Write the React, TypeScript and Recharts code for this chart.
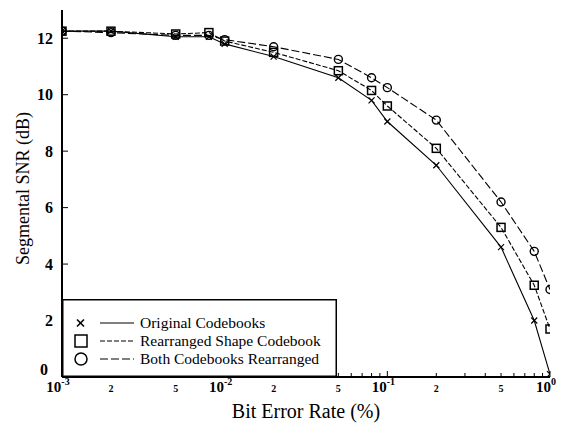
import React from 'react';
import { LineChart, Line, XAxis, YAxis } from 'recharts';

const berValues = [0.001, 0.002, 0.005, 0.008, 0.01, 0.02, 0.05, 0.08, 0.1, 0.2, 0.5, 0.8, 1.0];
const originalSnr = [12.25, 12.25, 12.05, 12.05, 11.8, 11.35, 10.6, 9.8, 9.05, 7.5, 4.6, 2.0, 0.1];
const shapeSnr = [12.25, 12.25, 12.15, 12.2, 11.9, 11.5, 10.85, 10.15, 9.6, 8.1, 5.3, 3.25, 1.7];
const bothSnr = [12.25, 12.2, 12.1, 12.1, 11.95, 11.7, 11.25, 10.6, 10.25, 9.1, 6.2, 4.45, 3.1];

const xTicks = [
  0.001, 0.002, 0.003, 0.004, 0.005, 0.006, 0.007, 0.008, 0.009,
  0.01, 0.02, 0.03, 0.04, 0.05, 0.06, 0.07, 0.08, 0.09,
  0.1, 0.2, 0.3, 0.4, 0.5, 0.6, 0.7, 0.8, 0.9, 1,
];
const xMajorTicks = [0.001, 0.01, 0.1, 1];
const xMajorExponents = ['-3', '-2', '-1', '0'];
const xMinorLabels = [
  { value: 0.002, label: '2' }, { value: 0.005, label: '5' },
  { value: 0.02, label: '2' }, { value: 0.05, label: '5' },
  { value: 0.2, label: '2' }, { value: 0.5, label: '5' },
];
const yTicks = [0, 2, 4, 6, 8, 10, 12];

const seriesNames = ['Original Codebooks', 'Rearranged Shape Codebook', 'Both Codebooks Rearranged'];

const data = berValues.map((ber, i) => ({
  ber,
  original: originalSnr[i],
  shape: shapeSnr[i],
  both: bothSnr[i],
}));

const FONT = '"Liberation Serif", "Times New Roman", serif';
const near = (a: number, b: number) => Math.abs(a - b) < 1e-9;

const BottomTick = (props: any) => {
  const { x, y, payload } = props;
  const v = payload.value;
  const mi = xMajorTicks.findIndex((t) => near(t, v));
  const minor = xMinorLabels.find((t) => near(t.value, v));
  const len = mi >= 0 ? 6 : 4;
  return (
    <g>
      <line x1={x} y1={y} x2={x} y2={y - len} stroke="#000" strokeWidth={1} />
      {mi >= 0 && (
        <text x={x - 4} y={y + 15} textAnchor="middle" fontFamily={FONT} fontSize={15} fontWeight="bold" fill="#000">
          10
          <tspan fontSize={10} dy={-7}>{xMajorExponents[mi]}</tspan>
        </text>
      )}
      {minor && (
        <text x={x} y={y + 15} textAnchor="middle" fontFamily={FONT} fontSize={10} fontWeight="bold" fill="#000">
          {minor.label}
        </text>
      )}
    </g>
  );
};

const TopTick = (props: any) => {
  const { x, y, payload } = props;
  const v = payload.value;
  const len = xMajorTicks.some((t) => near(t, v)) ? 6 : 4;
  return <line x1={x} y1={y} x2={x} y2={y + len} stroke="#000" strokeWidth={1} />;
};

const LeftTick = (props: any) => {
  const { x, y, payload } = props;
  const isZero = payload.value === 0;
  return (
    <g>
      <line x1={x} y1={y} x2={x + 6} y2={y} stroke="#000" strokeWidth={1} />
      <text x={x - (isZero ? 14 : 9)} y={isZero ? y - 2 : y + 5.5} textAnchor="end" fontFamily={FONT} fontSize={16} fontWeight="bold" fill="#000">
        {payload.value}
      </text>
    </g>
  );
};

const RightTick = (props: any) => {
  const { x, y } = props;
  return <line x1={x} y1={y} x2={x - 6} y2={y} stroke="#000" strokeWidth={1} />;
};

const CrossDot = (props: any) => {
  const { cx, cy, index } = props;
  if (cx == null || cy == null) return <g key={index} />;
  const s = 3;
  return (
    <g key={index}>
      <line x1={cx - s} y1={cy - s} x2={cx + s} y2={cy + s} stroke="#000" strokeWidth={1.2} />
      <line x1={cx - s} y1={cy + s} x2={cx + s} y2={cy - s} stroke="#000" strokeWidth={1.2} />
    </g>
  );
};

const SquareDot = (props: any) => {
  const { cx, cy, index } = props;
  if (cx == null || cy == null) return <g key={index} />;
  const s = 4;
  return <rect key={index} x={cx - s} y={cy - s} width={2 * s} height={2 * s} fill="none" stroke="#000" strokeWidth={1.5} />;
};

const CircleDot = (props: any) => {
  const { cx, cy, index } = props;
  if (cx == null || cy == null) return <g key={index} />;
  return <circle key={index} cx={cx} cy={cy} r={4} fill="none" stroke="#000" strokeWidth={1.4} />;
};

const XTitle = (props: any) => {
  const { viewBox } = props;
  const cx = viewBox.x + viewBox.width / 2;
  return (
    <text x={cx} y={viewBox.y + 41} textAnchor="middle" fontFamily={FONT} fontSize={20} fill="#000">
      Bit Error Rate (%)
    </text>
  );
};

const YTitle = (props: any) => {
  const { viewBox } = props;
  const cy = viewBox.y + viewBox.height / 2 - 5;
  const x = 29;
  return (
    <text x={x} y={cy} transform={`rotate(-90 ${x} ${cy})`} textAnchor="middle" fontFamily={FONT} fontSize={18} fill="#000">
      Segmental SNR (dB)
    </text>
  );
};

const dashes = [undefined, '5 2', '8 3'];

const LegendBox = () => (
  <svg width={275} height={78} style={{ position: 'absolute', left: 62, top: 299 }}>
    <rect x={0.75} y={0.75} width={273.5} height={76.5} fill="#fff" stroke="#000" strokeWidth={1.5} />
    {seriesNames.map((name, i) => {
      const cy = 24 + i * 18;
      return (
        <g key={name}>
          {i === 0 ? (
            <g>
              <line x1={15} y1={cy - 3.5} x2={22} y2={cy + 3.5} stroke="#000" strokeWidth={1.6} />
              <line x1={15} y1={cy + 3.5} x2={22} y2={cy - 3.5} stroke="#000" strokeWidth={1.6} />
            </g>
          ) : i === 1 ? (
            <rect x={13} y={cy - 6} width={12} height={12} fill="none" stroke="#000" strokeWidth={1.5} />
          ) : (
            <circle cx={19} cy={cy} r={6} fill="none" stroke="#000" strokeWidth={1.5} />
          )}
          <line x1={38} y1={cy} x2={72} y2={cy} stroke="#000" strokeWidth={1.2} strokeDasharray={dashes[i]} />
          <text x={78} y={cy + 5} fontFamily={FONT} fontSize={15.5} fill="#000">{name}</text>
        </g>
      );
    })}
  </svg>
);

export default function App() {
  return (
    <div style={{ position: 'absolute', left: 0, top: 0, width: 569, height: 425, background: '#fff' }}>
      <LineChart width={569} height={425} data={data} margin={{ top: 10, right: 19, bottom: 0, left: 0 }}>
        <XAxis
          dataKey="ber"
          type="number"
          scale="log"
          domain={[0.001, 1]}
          ticks={xTicks}
          interval={0}
          allowDataOverflow
          height={48}
          tickSize={0}
          tickMargin={0}
          tickLine={false}
          tick={<BottomTick />}
          axisLine={{ stroke: '#000', strokeWidth: 2 }}
          label={<XTitle />}
        />
        <XAxis
          xAxisId="top"
          dataKey="ber"
          type="number"
          scale="log"
          orientation="top"
          domain={[0.001, 1]}
          ticks={xTicks}
          interval={0}
          allowDataOverflow
          height={0}
          tickSize={0}
          tickMargin={0}
          tickLine={false}
          tick={<TopTick />}
          axisLine={{ stroke: '#000', strokeWidth: 1.5 }}
        />
        <YAxis
          type="number"
          domain={[0, 13]}
          ticks={yTicks}
          interval={0}
          width={62}
          tickSize={0}
          tickMargin={0}
          tickLine={false}
          tick={<LeftTick />}
          axisLine={{ stroke: '#000', strokeWidth: 2 }}
          label={<YTitle />}
        />
        <YAxis
          yAxisId="right"
          orientation="right"
          type="number"
          domain={[0, 13]}
          ticks={yTicks}
          interval={0}
          width={0}
          tickSize={0}
          tickMargin={0}
          tickLine={false}
          tick={<RightTick />}
          axisLine={{ stroke: '#000', strokeWidth: 1.5 }}
        />
        <Line dataKey="original" stroke="#000" strokeWidth={1.1} dot={<CrossDot />} isAnimationActive={false} />
        <Line dataKey="shape" stroke="#000" strokeWidth={1.1} strokeDasharray="5 2" dot={<SquareDot />} isAnimationActive={false} />
        <Line dataKey="both" stroke="#000" strokeWidth={1.1} strokeDasharray="8 3" dot={<CircleDot />} isAnimationActive={false} />
      </LineChart>
      <LegendBox />
    </div>
  );
}
